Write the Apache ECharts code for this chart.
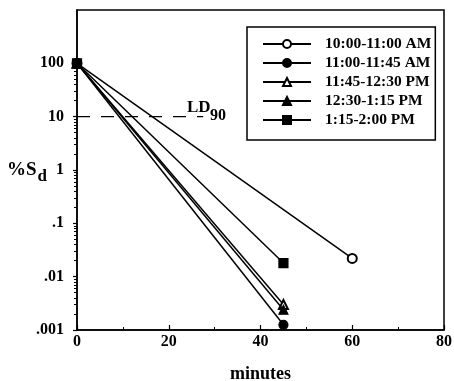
<!DOCTYPE html>
<html>
<head>
<meta charset="utf-8">
<script src="https://cdn.jsdelivr.net/npm/echarts@6/dist/echarts.min.js"></script>
<style>html,body{margin:0;padding:0;background:#fff}#c{width:454px;height:381px}</style>
</head>
<body>
<div id="c"></div>
<script>
const seriesNames = ['10:00-11:00 AM', '11:00-11:45 AM', '11:45-12:30 PM', '12:30-1:15 PM', '1:15-2:00 PM'];
const seriesSymbols = ['emptyCircle', 'circle', 'emptyTriangle', 'triangle', 'rect'];
const s1 = [[0, 100], [60, 0.022]];
const s2 = [[0, 100], [45, 0.00125]];
const s3 = [[0, 100], [45, 0.003]];
const s4 = [[0, 100], [45, 0.0024]];
const s5 = [[0, 100], [45, 0.018]];
const ld90 = [[0, 10], [27.5, 10]];
const xTicks = [0, 20, 40, 60, 80];
const yTickLabels = {'-3': '.001', '-2': '.01', '-1': '.1', '0': '1', '1': '10', '2': '100'};

const FONT = '"Liberation Serif", "Times New Roman", serif';
const chart = echarts.init(document.getElementById('c'), null, {renderer: 'canvas'});

const GL = 77, GR = 10, GT = 10, GB = 51, H = 381;
const decade = (H - GT - GB) / 6;

const allData = [s1, s2, s3, s4, s5];
const series = allData.map((d, i) => ({
  name: seriesNames[i],
  type: 'line',
  xAxisIndex: 0, yAxisIndex: 0,
  data: d,
  symbol: seriesSymbols[i],
  symbolSize: 9,
  showAllSymbol: true,
  color: '#000',
  lineStyle: {color: '#000', width: 1.5},
  itemStyle: {color: '#000', borderColor: '#000', borderWidth: 1.2},
  z: 3 + i
}));
series.push({
  name: 'LD90',
  type: 'line',
  xAxisIndex: 0, yAxisIndex: 0,
  data: ld90,
  symbol: 'none',
  lineStyle: {color: '#000', width: 1.3, type: [13, 11]},
  z: 2,
  silent: true
});

chart.setOption({
  animation: false,
  backgroundColor: '#fff',
  grid: [
    {left: GL, right: GR, top: GT, bottom: GB, show: true, borderColor: '#000', borderWidth: 1.5, containLabel: false, outerBoundsMode: 'none'},
    {left: GL, right: GR, top: GT + decade, bottom: GB, show: false, containLabel: false, outerBoundsMode: 'none'}
  ],
  xAxis: [{
    type: 'value', gridIndex: 0, min: xTicks[0], max: xTicks[xTicks.length - 1], interval: 20,
    name: 'minutes', nameLocation: 'middle', nameGap: 35, nameMoveOverlap: false,
    nameTextStyle: {fontFamily: FONT, fontWeight: 'bold', fontSize: 18, color: '#000'},
    axisLine: {lineStyle: {color: '#000', width: 1.5}},
    axisTick: {inside: true, length: 5, lineStyle: {color: '#000', width: 1.2}},
    minorTick: {show: true, splitNumber: 2, length: 3, lineStyle: {color: '#000'}},
    splitLine: {show: false},
    axisLabel: {fontFamily: FONT, fontWeight: 'bold', fontSize: 16, color: '#000', margin: 4}
  }, {
    type: 'value', gridIndex: 1, min: 0, max: 80, show: false
  }],
  yAxis: [{
    type: 'log', gridIndex: 0, min: 0.001, max: 1000, logBase: 10,
    name: '{a|%S}{b|d}', nameLocation: 'middle', nameRotate: 0, nameGap: 30, nameMoveOverlap: false,
    nameTextStyle: {
      color: '#000',
      rich: {
        a: {fontFamily: FONT, fontWeight: 'bold', fontSize: 19, color: '#000'},
        b: {fontFamily: FONT, fontWeight: 'bold', fontSize: 17, color: '#000', padding: [14, 0, 0, 1]}
      }
    },
    axisLine: {lineStyle: {color: '#000', width: 1.5}},
    axisTick: {show: false},
    splitLine: {show: false},
    axisLabel: {show: false}
  }, {
    type: 'log', gridIndex: 1, min: 0.001, max: 100, logBase: 10,
    axisLine: {show: false},
    axisTick: {inside: false, length: 4, lineStyle: {color: '#000', width: 1.2}},
    minorTick: {show: true, splitNumber: 9, length: 3, lineStyle: {color: '#000'}},
    splitLine: {show: false},
    axisLabel: {
      fontFamily: FONT, fontWeight: 'bold', fontSize: 16, color: '#000', margin: 13,
      formatter: v => yTickLabels[String(Math.round(Math.log10(v)))] || ''
    }
  }],
  legend: {
    data: seriesNames,
    orient: 'vertical', left: 247, top: 27,
    padding: [9, 4, 12, 15],
    itemWidth: 48, itemHeight: 10, itemGap: 3,
    borderColor: '#000', borderWidth: 1.5,
    textStyle: {fontFamily: FONT, fontWeight: 'bold', fontSize: 15.5, lineHeight: 14, color: '#000', padding: [0, 0, 0, 9]},
    inactiveColor: '#000'
  },
  graphic: [
    {type: 'text', left: 187, top: 99, style: {text: 'LD', font: 'bold 17px ' + FONT, fill: '#000'}},
    {type: 'text', left: 210, top: 108, style: {text: '90', font: 'bold 16px ' + FONT, fill: '#000'}}
  ],
  series: series
});
</script>
</body>
</html>
